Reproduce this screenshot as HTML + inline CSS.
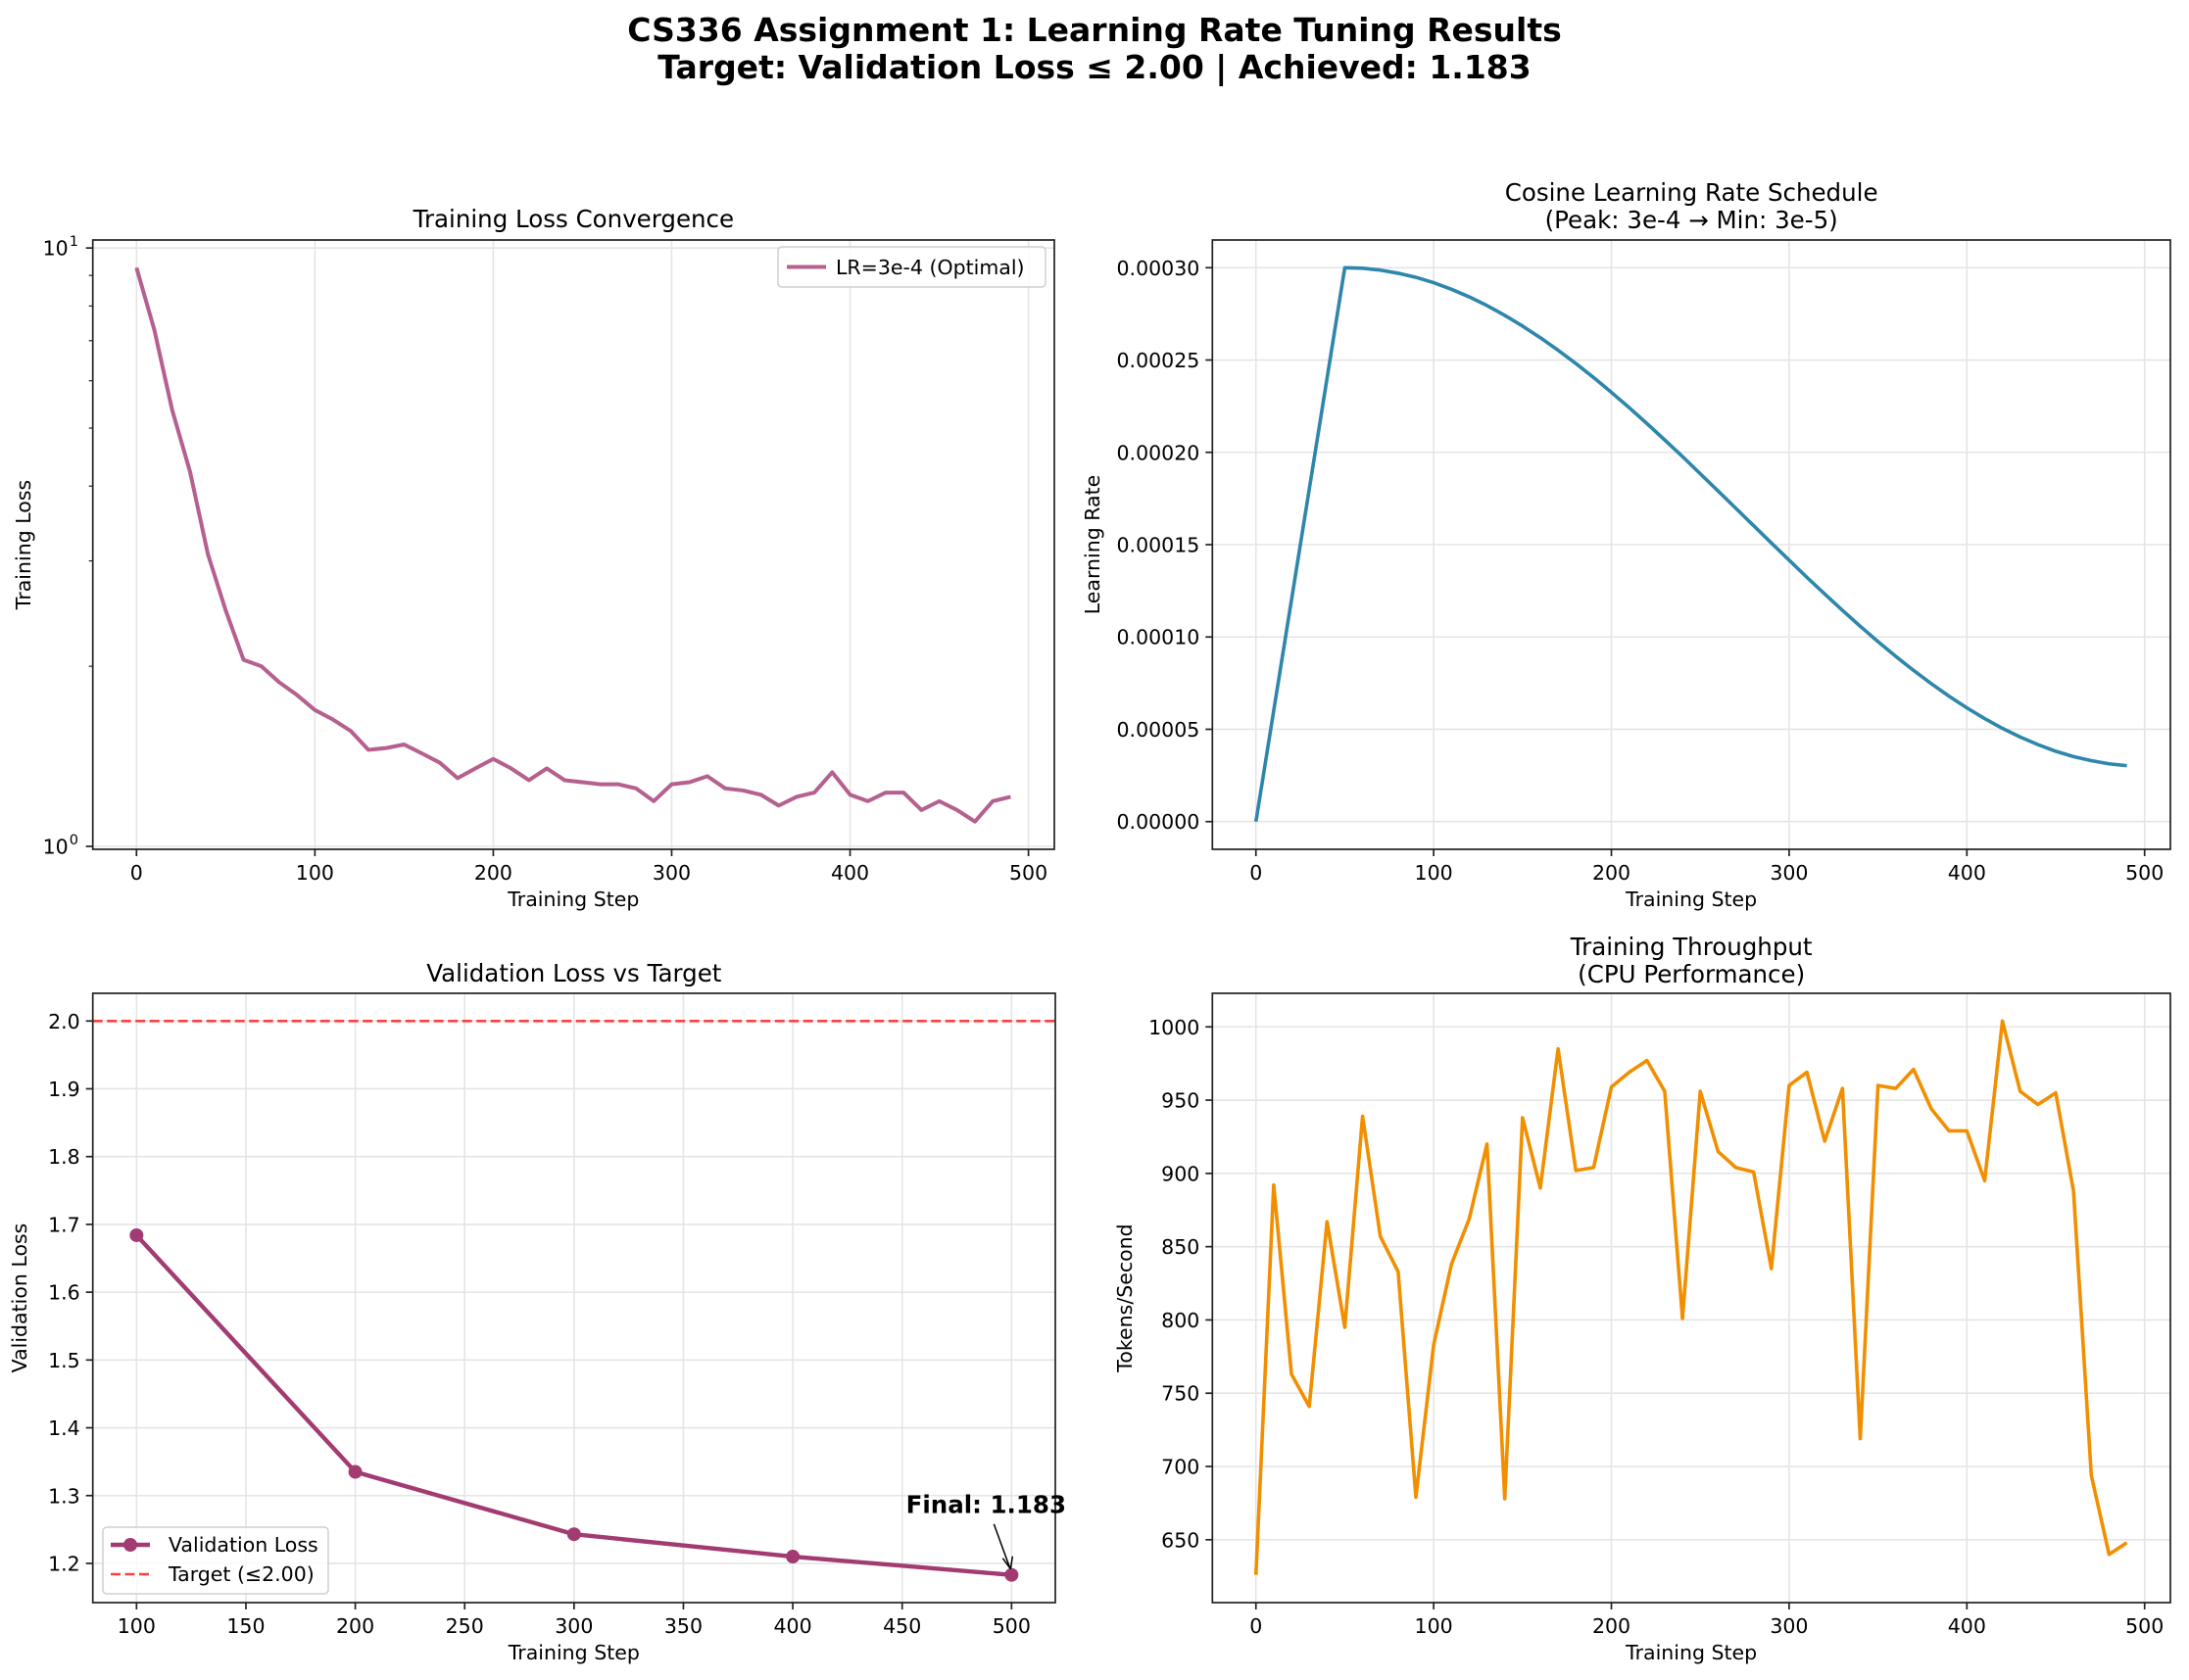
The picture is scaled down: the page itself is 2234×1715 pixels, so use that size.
<!DOCTYPE html>
<html><head><meta charset="utf-8"><style>
html,body{margin:0;padding:0;background:#fff;}
svg{display:block;font-family:"DejaVu Sans","Liberation Sans",sans-serif;}
</style></head><body>
<svg id="fig" width="2234" height="1715" viewBox="0 0 2234 1715" xmlns="http://www.w3.org/2000/svg">
<text x="1117" y="42" text-anchor="middle" font-size="33" font-weight="bold" fill="#000">CS336 Assignment 1: Learning Rate Tuning Results</text>
<text x="1117" y="80" text-anchor="middle" font-size="33" font-weight="bold" fill="#000">Target: Validation Loss ≤ 2.00 | Achieved: 1.183</text>
</svg>
<script>
// ---- data ----
const trainSteps = [0,10,20,30,40,50,60,70,80,90,100,110,120,130,140,150,160,170,180,190,200,210,220,230,240,250,260,270,280,290,300,310,320,330,340,350,360,370,380,390,400,410,420,430,440,450,460,470,480,490];
const trainLoss = [9.27,7.3,5.36,4.23,3.08,2.48,2.05,2.0,1.88,1.79,1.69,1.63,1.56,1.45,1.46,1.48,1.43,1.38,1.30,1.35,1.40,1.35,1.29,1.35,1.29,1.28,1.27,1.27,1.25,1.19,1.27,1.28,1.31,1.25,1.24,1.22,1.17,1.21,1.23,1.33,1.22,1.19,1.23,1.23,1.15,1.19,1.15,1.10,1.19,1.21];
const lrValues = [0,0.6e-4,1.2e-4,1.8e-4,2.4e-4,3.0e-4,2.997e-4,2.987e-4,2.970e-4,2.948e-4,2.919e-4,2.883e-4,2.842e-4,2.795e-4,2.742e-4,2.684e-4,2.621e-4,2.553e-4,2.481e-4,2.405e-4,2.325e-4,2.242e-4,2.156e-4,2.067e-4,1.977e-4,1.884e-4,1.791e-4,1.697e-4,1.603e-4,1.509e-4,1.416e-4,1.323e-4,1.233e-4,1.144e-4,1.058e-4,0.975e-4,0.895e-4,0.819e-4,0.747e-4,0.679e-4,0.616e-4,0.558e-4,0.505e-4,0.458e-4,0.417e-4,0.381e-4,0.352e-4,0.330e-4,0.313e-4,0.303e-4];
const valSteps = [100,200,300,400,500];
const valLoss = [1.684,1.335,1.243,1.210,1.183];
const targetLoss = 2.0;
const throughput = [626,892,763,741,867,795,939,857,833,679,783,838,869,920,678,938,890,985,902,904,959,969,977,956,801,956,915,904,901,835,960,969,922,958,719,960,958,971,944,929,929,895,1004,956,947,955,888,694,640,648];
const stepTicks = [0,100,200,300,400,500];
const valStepTicks = [100,150,200,250,300,350,400,450,500];
const lrTicks = [0,0.00005,0.0001,0.00015,0.0002,0.00025,0.0003];
const lrTickLabels = ["0.00000","0.00005","0.00010","0.00015","0.00020","0.00025","0.00030"];
const valTicks = [1.2,1.3,1.4,1.5,1.6,1.7,1.8,1.9,2.0];
const tpTicks = [650,700,750,800,850,900,950,1000];

const NS="http://www.w3.org/2000/svg";
const svg=document.getElementById('fig');
function mk(tag,attrs,parent){const e=document.createElementNS(NS,tag);for(const k in attrs)e.setAttribute(k,attrs[k]);(parent||svg).appendChild(e);return e;}
function txt(str,attrs,parent){const e=mk('text',attrs,parent);e.textContent=str;return e;}

function makeAxes(name,L,T,R,B,xmin,xmax,ymin,ymax,log){
  const g=mk('g',{});
  
  
  const sx=v=>L+(v-xmin)/(xmax-xmin)*(R-L);
  const sy=log?(v=>B-(Math.log10(v)-Math.log10(ymin))/(Math.log10(ymax)-Math.log10(ymin))*(B-T))
             :(v=>B-(v-ymin)/(ymax-ymin)*(B-T));
  return {g,sx,sy,L,T,R,B};
}
function grid(ax,xt,yt){
  const gg=mk('g',{},ax.g);
  
  
  xt.forEach(v=>{const x=ax.sx(v);if(x<ax.L-1||x>ax.R+1)return;mk('line',{x1:x,x2:x,y1:ax.T,y2:ax.B,stroke:'#e5e5e5','stroke-width':1.6},gg);});
  yt.forEach(v=>{const y=ax.sy(v);mk('line',{x1:ax.L,x2:ax.R,y1:y,y2:y,stroke:'#e5e5e5','stroke-width':1.6},gg);});
}
function frame(ax,xt,yt,xlabels,ylabels,xName){
  mk('rect',{x:ax.L,y:ax.T,width:ax.R-ax.L,height:ax.B-ax.T,fill:'none',stroke:'#222','stroke-width':1.7},ax.g);
  const xa=mk('g',{},ax.g);
  
  
  xt.forEach((v,i)=>{const x=ax.sx(v);
    mk('line',{x1:x,x2:x,y1:ax.B,y2:ax.B+7,stroke:'#222','stroke-width':1.7},xa);
    const t=txt(xlabels[i],{x:x,y:ax.B+31,'text-anchor':'middle','font-size':20.5,fill:'#000'},xa);
    
    
  });
  const ya=mk('g',{},ax.g);
  
  
  yt.forEach((v,i)=>{const y=ax.sy(v);
    mk('line',{x1:ax.L-7,x2:ax.L,y1:y,y2:y,stroke:'#222','stroke-width':1.7},ya);
    const t=txt(ylabels[i],{x:ax.L-13,y:y+7.5,'text-anchor':'end','font-size':20.5,fill:'#000'},ya);
    
    
  });
  const xl=txt(xName,{x:(ax.L+ax.R)/2,y:ax.B+58,'text-anchor':'middle','font-size':20.5,fill:'#000'},ax.g);
  
  
  return ya;
}
function ylab(ax,label,x){
  const cy=(ax.T+ax.B)/2;
  const t=txt(label,{x:x,y:cy,'text-anchor':'middle','font-size':20.5,fill:'#000',transform:`rotate(-90 ${x} ${cy})`},ax.g);
  
  
}
function title(ax,lines,y0){
  lines.forEach((s,i)=>{const t=txt(s,{x:(ax.L+ax.R)/2,y:y0+i*28,'text-anchor':'middle','font-size':24.5,fill:'#000'},ax.g);
  
  });
}
function line(ax,xs,ys,color,w,name,dash){
  const d=xs.map((x,i)=>(i?'L':'M')+ax.sx(x).toFixed(2)+' '+ax.sy(ys[i]).toFixed(2)).join(' ');
  const p=mk('path',{d:d,fill:'none',stroke:color,'stroke-width':w,'stroke-linejoin':'round'},ax.g);
  if(dash)p.setAttribute('stroke-dasharray',dash);
  
  
  return p;
}

// ---- Top-left: training loss (log) ----
{
  const lmin=Math.log10(Math.min(...trainLoss)),lmax=Math.log10(Math.max(...trainLoss)),m=(lmax-lmin)*0.05;
  const ax=makeAxes('training-loss-chart',94.7,245,1076,867,-24.5,514.5,Math.pow(10,lmin-m),Math.pow(10,lmax+m),true);
  grid(ax,stepTicks,[1,10]);
  line(ax,trainSteps,trainLoss,'#b5608f',4,'training-loss-line');
  const ya=frame(ax,stepTicks,[],stepTicks.map(String),[],'Training Step');
  [2,3,4,5,6,7,8,9].forEach(v=>{const y=ax.sy(v);if(y<ax.T)return;mk('line',{x1:ax.L-4,x2:ax.L,y1:y,y2:y,stroke:'#222','stroke-width':1.2},ya);});
  [[1,'0'],[10,'1']].forEach(([v,e])=>{const y=ax.sy(v);
    mk('line',{x1:ax.L-7,x2:ax.L,y1:y,y2:y,stroke:'#222','stroke-width':1.7},ya);
    const t=txt('10',{x:ax.L-25,y:y+7.5,'text-anchor':'end','font-size':20.5,fill:'#000'},ya);
    
    
    txt(e,{x:ax.L-24,y:y-2,'text-anchor':'start','font-size':14.5,fill:'#000'},ya);
  });
  ylab(ax,'Training Loss',31);
  title(ax,['Training Loss Convergence'],232);
  const lg=mk('g',{},ax.g);
  
  
  mk('rect',{x:794,y:252,width:273,height:41,rx:4,fill:'#fff','fill-opacity':0.8,stroke:'#d0d0d0','stroke-width':1.5},lg);
  mk('line',{x1:803,x2:843,y1:272.5,y2:272.5,stroke:'#b5608f','stroke-width':4},lg);
  txt('LR=3e-4 (Optimal)',{x:853,y:280,'font-size':20.5,fill:'#000'},lg);
}

// ---- Top-right: cosine LR ----
{
  const mn=Math.min(...lrValues),mx=Math.max(...lrValues),m=(mx-mn)*0.05;
  const ax=makeAxes('lr-schedule-chart',1237.3,245,2215,867,-24.5,514.5,mn-m,mx+m,false);
  grid(ax,stepTicks,lrTicks);
  line(ax,trainSteps,lrValues,'#2e86ab',3.6,'lr-schedule-line');
  frame(ax,stepTicks,lrTicks,stepTicks.map(String),lrTickLabels,'Training Step');
  ylab(ax,'Learning Rate',1122);
  title(ax,['Cosine Learning Rate Schedule','(Peak: 3e-4 → Min: 3e-5)'],205);
}

// ---- Bottom-left: validation ----
{
  const mn=Math.min(...valLoss,targetLoss),mx=Math.max(...valLoss,targetLoss),m=(mx-mn)*0.05;
  const ax=makeAxes('validation-loss-chart',94.7,1014,1077,1636,80,520,mn-m,mx+m,false);
  grid(ax,valStepTicks,valTicks);
  const ty=ax.sy(targetLoss);
  const tl=mk('line',{x1:ax.L,x2:ax.R,y1:ty,y2:ty,stroke:'#ff4040','stroke-width':2.6,'stroke-dasharray':'10 4.5'},ax.g);
  
  
  line(ax,valSteps,valLoss,'#a23b72',4.4,'validation-loss-line');
  valSteps.forEach((s,i)=>{const c=mk('circle',{cx:ax.sx(s),cy:ax.sy(valLoss[i]),r:7,fill:'#a23b72'},ax.g);
    
    });
  frame(ax,valStepTicks,valTicks,valStepTicks.map(String),valTicks.map(v=>v.toFixed(1)),'Training Step');
  ylab(ax,'Validation Loss',27);
  title(ax,['Validation Loss vs Target'],1002);
  const lx=ax.sx(valSteps[valSteps.length-1]),lyv=ax.sy(valLoss[valLoss.length-1]);
  const an=mk('g',{},ax.g);
  
  
  txt('Final: 1.183',{x:lx-26,y:lyv-63,'text-anchor':'middle','font-size':24.5,'font-weight':'bold',fill:'#000'},an);
  mk('line',{x1:lx-18,y1:lyv-52,x2:lx-2,y2:lyv-8,stroke:'#000','stroke-width':1.5},an);
  mk('path',{d:`M${lx-1} ${lyv-6} L${lx-9} ${lyv-17} M${lx-1} ${lyv-6} L${lx+1} ${lyv-19}`,stroke:'#000','stroke-width':1.5,fill:'none'},an);
  const lg=mk('g',{},ax.g);
  
  
  mk('rect',{x:105,y:1559,width:230,height:68,rx:4,fill:'#fff','fill-opacity':0.8,stroke:'#d0d0d0','stroke-width':1.5},lg);
  mk('line',{x1:113,x2:153,y1:1577,y2:1577,stroke:'#a23b72','stroke-width':4.4},lg);
  mk('circle',{cx:133,cy:1577,r:7,fill:'#a23b72'},lg);
  txt('Validation Loss',{x:172,y:1584,'font-size':20.5,fill:'#000'},lg);
  mk('line',{x1:113,x2:153,y1:1607,y2:1607,stroke:'#ff4040','stroke-width':2.6,'stroke-dasharray':'10 4.5'},lg);
  txt('Target (≤2.00)',{x:172,y:1614,'font-size':20.5,fill:'#000'},lg);
}

// ---- Bottom-right: throughput ----
{
  const mn=Math.min(...throughput),mx=Math.max(...throughput),m=(mx-mn)*0.05;
  const ax=makeAxes('throughput-chart',1237.3,1014,2215,1636,-24.5,514.5,mn-m,mx+m,false);
  grid(ax,stepTicks,tpTicks);
  line(ax,trainSteps,throughput,'#f18f01',3.6,'throughput-line');
  frame(ax,stepTicks,tpTicks,stepTicks.map(String),tpTicks.map(String),'Training Step');
  ylab(ax,'Tokens/Second',1155);
  title(ax,['Training Throughput','(CPU Performance)'],975);
}
</script>
</body></html>
